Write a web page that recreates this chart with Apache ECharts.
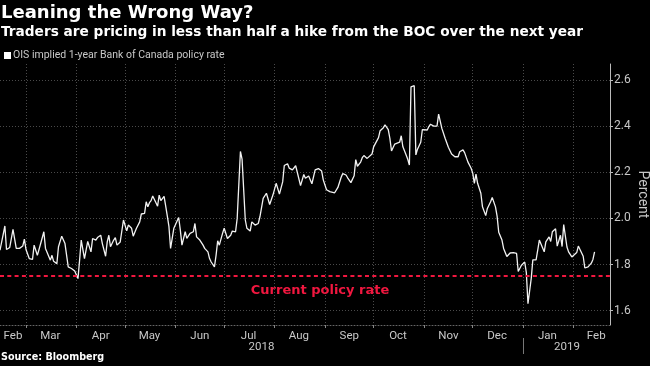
<!DOCTYPE html>
<html><head><meta charset="utf-8">
<script src="https://cdn.jsdelivr.net/npm/echarts@6/dist/echarts.min.js"></script>
<style>html,body{margin:0;padding:0;background:#000}#c{width:650px;height:366px}</style>
</head><body><div id="c"></div>
<script>
const dates = [
'2018-02-13','2018-02-16','2018-02-17','2018-02-19','2018-02-21','2018-02-23','2018-02-25','2018-02-27','2018-02-28',
'2018-03-01','2018-03-03','2018-03-05','2018-03-06','2018-03-08','2018-03-09','2018-03-10','2018-03-12','2018-03-13','2018-03-14','2018-03-16','2018-03-17','2018-03-18','2018-03-20','2018-03-21','2018-03-23','2018-03-24','2018-03-25','2018-03-27','2018-03-29','2018-03-30','2018-03-31',
'2018-04-02','2018-04-03','2018-04-04','2018-04-06','2018-04-08','2018-04-10','2018-04-11','2018-04-13','2018-04-14','2018-04-16','2018-04-17','2018-04-19','2018-04-20','2018-04-21','2018-04-22','2018-04-24','2018-04-25','2018-04-26','2018-04-28','2018-04-29','2018-04-30',
'2018-05-02','2018-05-03','2018-05-05','2018-05-06','2018-05-08','2018-05-10','2018-05-11','2018-05-13','2018-05-14','2018-05-15','2018-05-16','2018-05-17','2018-05-18','2018-05-20','2018-05-21','2018-05-22','2018-05-23','2018-05-25','2018-05-26','2018-05-27','2018-05-28','2018-05-29','2018-05-31',
'2018-06-01','2018-06-03','2018-06-04','2018-06-05','2018-06-07','2018-06-08','2018-06-10','2018-06-12','2018-06-13','2018-06-14','2018-06-16','2018-06-18','2018-06-19','2018-06-21','2018-06-22','2018-06-23','2018-06-25','2018-06-26','2018-06-27','2018-06-28','2018-06-30',
'2018-07-01','2018-07-03','2018-07-05','2018-07-06','2018-07-08','2018-07-09','2018-07-10','2018-07-11','2018-07-12','2018-07-14','2018-07-15','2018-07-17','2018-07-18','2018-07-20','2018-07-22','2018-07-23','2018-07-25','2018-07-27','2018-07-29','2018-07-31',
'2018-08-02','2018-08-04','2018-08-06','2018-08-07','2018-08-09','2018-08-10','2018-08-12','2018-08-14','2018-08-15','2018-08-17','2018-08-19','2018-08-20','2018-08-22','2018-08-23','2018-08-24','2018-08-26','2018-08-28','2018-08-30','2018-08-31',
'2018-09-02','2018-09-04','2018-09-07','2018-09-09','2018-09-11','2018-09-12','2018-09-14','2018-09-15','2018-09-16','2018-09-17','2018-09-19','2018-09-20','2018-09-21','2018-09-23','2018-09-24','2018-09-25','2018-09-27','2018-09-28','2018-09-30',
'2018-10-01','2018-10-02','2018-10-04','2018-10-05','2018-10-07','2018-10-08','2018-10-10','2018-10-11','2018-10-12','2018-10-14','2018-10-15','2018-10-17','2018-10-18','2018-10-19','2018-10-21','2018-10-22','2018-10-23','2018-10-24','2018-10-26','2018-10-27','2018-10-28','2018-10-30','2018-10-31',
'2018-11-01','2018-11-03','2018-11-04','2018-11-05','2018-11-07','2018-11-09','2018-11-10','2018-11-12','2018-11-14','2018-11-16','2018-11-18','2018-11-20','2018-11-22','2018-11-23','2018-11-25','2018-11-26','2018-11-28','2018-11-30',
'2018-12-01','2018-12-02','2018-12-03','2018-12-04','2018-12-06','2018-12-07','2018-12-09','2018-12-10','2018-12-12','2018-12-13','2018-12-15','2018-12-16','2018-12-17','2018-12-19','2018-12-20','2018-12-22','2018-12-24','2018-12-26','2018-12-28','2018-12-29','2018-12-31',
'2019-01-02','2019-01-03','2019-01-04','2019-01-06','2019-01-07','2019-01-09','2019-01-10','2019-01-11','2019-01-14','2019-01-15','2019-01-17','2019-01-18','2019-01-19','2019-01-21','2019-01-22','2019-01-24','2019-01-25','2019-01-26','2019-01-28','2019-01-29','2019-01-31',
'2019-02-01','2019-02-03','2019-02-04','2019-02-05','2019-02-07','2019-02-08','2019-02-10','2019-02-12','2019-02-13','2019-02-14'
];
const rates = [
1.862,1.967,1.865,1.874,1.952,1.870,1.870,1.880,1.910,
1.865,1.826,1.822,1.884,1.840,1.833,1.890,1.942,1.870,1.862,1.819,1.840,1.814,1.804,1.877,1.923,1.917,1.891,1.790,1.783,1.783,1.772,
1.739,1.819,1.906,1.826,1.900,1.855,1.913,1.906,1.917,1.927,1.891,1.836,1.898,1.927,1.877,1.906,1.917,1.884,1.898,1.894,1.993,
1.946,1.971,1.957,1.923,1.957,1.985,2.019,2.022,2.072,2.050,2.068,2.077,2.097,2.068,2.053,2.101,2.077,2.095,2.053,2.010,1.964,1.870,1.957,
1.949,2.004,1.949,1.884,1.942,1.913,1.935,1.942,1.978,1.920,1.906,1.884,1.870,1.855,1.826,1.811,1.790,1.840,1.903,1.884,1.935,
1.957,1.913,1.927,1.945,1.942,2.000,2.000,2.290,2.257,1.993,1.957,1.945,1.985,1.971,1.978,2.007,2.087,2.109,2.060,2.101,
2.152,2.105,2.158,2.229,2.237,2.218,2.210,2.228,2.200,2.142,2.190,2.174,2.184,2.183,2.150,2.210,2.216,2.205,2.167,
2.124,2.116,2.111,2.134,2.178,2.194,2.188,2.176,2.184,2.155,2.185,2.255,2.226,2.244,2.263,2.272,2.260,2.253,2.279,
2.310,2.302,2.350,2.380,2.393,2.405,2.385,2.347,2.292,2.322,2.323,2.330,2.358,2.310,2.275,2.256,2.231,2.570,2.575,2.275,2.300,2.330,2.385,
2.390,2.383,2.398,2.408,2.400,2.400,2.452,2.390,2.347,2.308,2.279,2.267,2.267,2.289,2.297,2.285,2.245,2.217,
2.196,2.152,2.192,2.152,2.109,2.050,2.012,2.043,2.072,2.091,2.050,2.010,1.940,1.906,1.870,1.835,1.850,1.852,1.848,1.770,1.797,
1.811,1.765,1.630,1.739,1.820,1.820,1.862,1.906,1.855,1.898,1.920,1.900,1.942,1.955,1.880,1.927,1.878,1.973,1.876,1.855,1.833,
1.826,1.852,1.880,1.877,1.836,1.785,1.790,1.806,1.822,1.855
];
const yTicks = [1.6, 1.8, 2.0, 2.2, 2.4, 2.6];
const monthStarts = ['2018-03-01','2018-04-01','2018-05-01','2018-06-01','2018-07-01','2018-08-01','2018-09-01','2018-10-01','2018-11-01','2018-12-01','2019-01-01','2019-02-01'];
const monthLabelDates = ['2018-02-21','2018-03-16','2018-04-16','2018-05-16','2018-06-16','2018-07-16','2018-08-16','2018-09-16','2018-10-16','2018-11-16','2018-12-16','2019-01-16','2019-02-15'];
const monthLabels = ['Feb','Mar','Apr','May','Jun','Jul','Aug','Sep','Oct','Nov','Dec','Jan','Feb'];
const yearTickDates = ['2019-01-01'];
const yearLabelDates = ['2018-07-24','2019-01-28'];
const yearLabels = ['2018','2019'];
const policyRate = 1.75;
const policyLabel = 'Current policy rate';
const policyLabelAt = ['2018-08-29', 1.687];

function ts(s){const p=s.split('-');return new Date(+p[0],+p[1]-1,+p[2]).getTime();}
const xMin = ts('2018-02-13');
const xMax = ts('2019-02-23') + 12*3600*1000;
const monthMap = {}; monthLabelDates.forEach((d,i)=>{monthMap[ts(d)] = monthLabels[i];});
const yearMap = {}; yearLabelDates.forEach((d,i)=>{yearMap[ts(d)] = yearLabels[i];});
const FONT = 'Roboto';
const BOLDFONT = 'DejaVu Sans';
const TXT = '#c8c8c8';
const GRIDC = '#4a4a4a';

const chart = echarts.init(document.getElementById('c'), null, {renderer:'canvas'});
chart.setOption({
  backgroundColor:'#000',
  animation:false,
  title:[
    {text:'Leaning the Wrong Way?', left:1, top:4, padding:0, textStyle:{color:'#fff', fontSize:18, fontWeight:'bold', fontFamily:BOLDFONT}},
    {text:'Traders are pricing in less than half a hike from the BOC over the next year', left:1, top:25, padding:0, textStyle:{color:'#fff', fontSize:13.7, fontWeight:'bold', fontFamily:BOLDFONT}},
    {text:'Source: Bloomberg', left:1, top:352, padding:0, textStyle:{color:'#fff', fontSize:9.6, fontWeight:'bold', fontFamily:BOLDFONT}}
  ],
  legend:{
    left:4, top:50, padding:0, icon:'rect', itemWidth:7, itemHeight:7,
    textStyle:{color:TXT, fontSize:10.5, fontFamily:FONT, padding:[0,0,0,-3]},
    data:['OIS implied 1-year Bank of Canada policy rate']
  },
  grid:{left:0, right:40, top:64, bottom:41, containLabel:false, outerBoundsMode:'none'},
  xAxis:[
    {
      type:'value', min:xMin, max:xMax, position:'bottom', scale:true,
      axisLine:{show:true, lineStyle:{color:'#666', type:[1,2]}},
      axisTick:{show:true, customValues: monthStarts.map(ts), length:3, lineStyle:{color:'#888'}},
      splitLine:{show:true, lineStyle:{color:GRIDC, type:[1,2], width:1}},
      axisLabel:{customValues: monthLabelDates.map(ts), formatter:(v)=>monthMap[v]||'', color:TXT, fontSize:11.5, fontFamily:FONT, margin:5}
    },
    {
      type:'value', min:xMin, max:xMax, position:'bottom', offset:13, scale:true,
      axisLine:{show:false},
      axisTick:{show:true, customValues: yearTickDates.map(ts), length:16, lineStyle:{color:'#777'}},
      splitLine:{show:false},
      axisLabel:{customValues: yearLabelDates.map(ts), formatter:(v)=>yearMap[v]||'', color:TXT, fontSize:11.5, fontFamily:FONT, margin:3}
    }
  ],
  yAxis:{
    type:'value', position:'right', min:1.538, max:2.669,
    axisLine:{show:true, lineStyle:{color:'#bbb'}},
    axisTick:{show:true, customValues:yTicks, length:3, lineStyle:{color:'#bbb'}},
    axisLabel:{customValues:yTicks, formatter:(v)=>v.toFixed(1), color:TXT, fontSize:12, fontFamily:FONT, margin:4},
    splitLine:{show:true, lineStyle:{color:GRIDC, type:[1,2], width:1}},
    name:'Percent', nameLocation:'middle', nameRotate:-90, nameGap:25, nameMoveOverlap:false,
    nameTextStyle:{color:TXT, fontSize:14, fontFamily:FONT}
  },
  series:[{
    name:'OIS implied 1-year Bank of Canada policy rate',
    type:'line', xAxisIndex:0, showSymbol:false, symbol:'none',
    lineStyle:{color:'#f2f2f2', width:1.3}, itemStyle:{color:'#fff'},
    data: dates.map((d,i)=>[ts(d), rates[i]]),
    markLine:{
      silent:true, symbol:'none', label:{show:false},
      lineStyle:{color:'#f0173f', type:[4,3.3], width:2.2},
      data:[{yAxis:policyRate}]
    },
    markPoint:{
      silent:true, symbol:'rect', symbolSize:1, itemStyle:{color:'rgba(0,0,0,0)'},
      label:{show:true, position:'inside', formatter:policyLabel, color:'#f0173f', fontSize:13, fontWeight:'bold', fontFamily:BOLDFONT},
      data:[{coord:[ts(policyLabelAt[0]), policyLabelAt[1]]}]
    }
  }]
});
</script></body></html>
